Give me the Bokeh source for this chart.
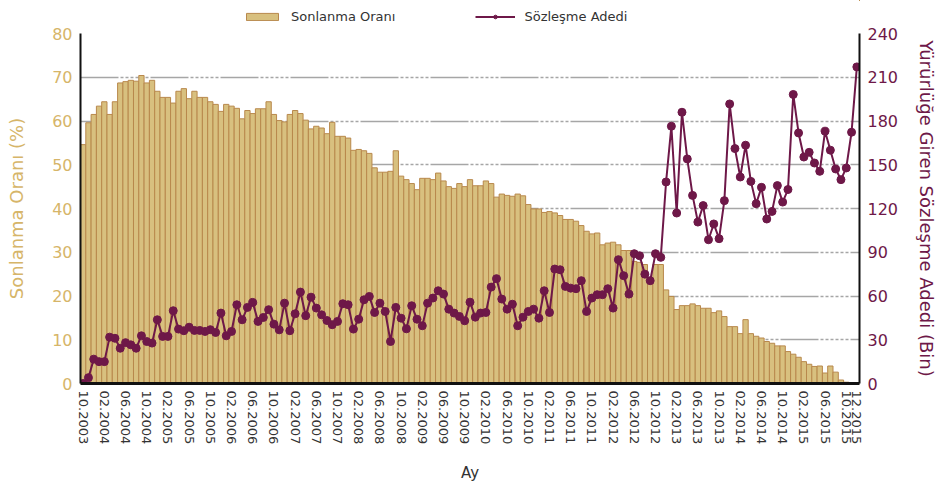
from bokeh.plotting import figure
from bokeh.layouts import column
from bokeh.models import Range1d, LinearAxis, FixedTicker, Legend, LegendItem, ColumnDataSource
from bokeh.embed import file_html
from bokeh.resources import INLINE

# Sonlanma Oranı (%) monthly, 10.2003 .. 12.2015
sonlanma = [
    54.6, 59.6, 61.5, 63.4, 64.4, 61.5, 64.4, 68.7, 69.0, 69.3,
    69.1, 70.4, 68.7, 69.3, 66.8, 65.4, 65.4, 64.1, 66.8, 67.4,
    65.1, 66.8, 65.4, 65.4, 64.4, 63.8, 62.2, 63.8, 63.4, 62.9,
    60.5, 62.4, 61.7, 62.8, 62.8, 64.4, 61.5, 60.1, 59.8, 61.5,
    62.4, 61.7, 60.2, 58.2, 58.8, 58.4, 57.1, 59.7, 56.5, 56.5,
    56.1, 53.3, 53.5, 53.2, 52.6, 49.3, 48.3, 48.3, 48.5, 53.2,
    47.4, 46.6, 45.7, 44.3, 46.9, 46.9, 46.6, 48.1, 46.3, 45.0,
    44.6, 45.7, 45.0, 46.6, 45.2, 45.2, 46.3, 45.7, 42.6, 43.3,
    43.0, 42.8, 43.3, 42.9, 40.9, 39.9, 39.9, 39.1, 39.3, 39.0,
    38.4, 37.5, 37.5, 37.1, 36.1, 34.8, 34.2, 34.4, 31.7, 32.1,
    32.3, 31.7, 30.4, 30.4, 27.9, 27.7, 27.2, 23.9, 27.2, 27.2,
    21.4, 19.9, 16.9, 17.8, 17.8, 18.2, 17.8, 17.2, 17.2, 16.2,
    16.6, 15.3, 13.0, 13.0, 11.4, 14.6, 11.4, 10.8, 10.4, 9.6,
    9.2, 8.6, 8.6, 7.3, 6.7, 6.0, 5.0, 4.4, 3.9, 4.0,
    2.4, 4.0, 2.6, 0.8, 0.3, 0.2, 0.1,
]

# Sözleşme Adedi (Bin) monthly
sozlesme = [
    0.0, 4.0, 16.7, 15.0, 15.0, 31.8, 31.0, 24.2, 28.0, 26.5,
    24.2, 32.7, 28.8, 27.7, 43.7, 32.3, 32.3, 49.9, 37.3, 36.2,
    38.6, 36.4, 36.4, 35.7, 36.9, 35.0, 48.3, 32.7, 35.7, 54.0,
    43.7, 52.2, 55.6, 42.6, 45.3, 50.6, 40.7, 36.8, 55.1, 36.2,
    47.8, 62.7, 46.5, 59.2, 51.7, 47.1, 43.2, 40.3, 42.6, 54.7,
    54.0, 37.3, 44.1, 57.4, 59.7, 48.7, 55.1, 49.4, 28.8, 52.2,
    44.8, 37.5, 53.3, 44.1, 39.6, 55.1, 58.6, 63.6, 61.3, 51.0,
    48.3, 46.0, 43.0, 55.8, 45.5, 48.3, 48.7, 66.1, 71.9, 57.9,
    51.0, 54.4, 39.6, 45.5, 49.4, 51.0, 44.8, 63.6, 48.7, 78.5,
    78.0, 66.6, 65.4, 65.0, 70.5, 49.4, 58.6, 60.9, 60.9, 65.0,
    51.7, 84.9, 73.9, 61.3, 89.0, 87.6, 75.0, 70.5, 89.0, 86.5,
    138.2, 176.4, 116.9, 186.0, 154.0, 129.0, 110.7, 122.0, 98.6, 109.4,
    99.3, 125.4, 191.7, 161.1, 141.6, 163.4, 138.6, 123.3, 134.5, 112.8,
    118.0, 135.7, 124.4, 133.0, 198.2, 171.8, 155.3, 158.5, 151.2, 145.5,
    173.0, 160.0, 147.1, 139.8, 147.8, 172.3, 217.1,
]

tick_positions = [0, 4, 8, 12, 16, 20, 24, 28, 32, 36, 40, 44, 48, 52, 56, 60, 64, 68, 72,
                  76, 80, 84, 88, 92, 96, 100, 104, 108, 112, 116, 120, 124, 128, 132, 136,
                  140, 144, 146]
tick_labels = ["10.2003", "02.2004", "06.2004", "10.2004", "02.2005", "06.2005", "10.2005",
               "02.2006", "06.2006", "10.2006", "02.2007", "06.2007", "10.2007", "02.2008",
               "06.2008", "10.2008", "02.2009", "06.2009", "10.2009", "02.2010", "06.2010",
               "10.2010", "02.2011", "06.2011", "10.2011", "02.2012", "06.2012", "10.2012",
               "02.2013", "06.2013", "10.2013", "02.2014", "06.2014", "10.2014", "02.2015",
               "06.2015", "10.2015", "12.2015"]

left_ticks = [0, 10, 20, 30, 40, 50, 60, 70, 80]
right_ticks = [0, 30, 60, 90, 120, 150, 180, 210, 240]

x = list(range(len(sonlanma)))
src = ColumnDataSource(dict(x=x, s=sonlanma, a=sozlesme))

TAN = "#d6b569"
BAR_FILL = "#d8c07f"
BAR_LINE = "#b8884c"
MAROON = "#6e1848"
FONT = "DejaVu Sans"
W = 940

p = figure(width=W, height=459, x_range=Range1d(-0.5, len(x) - 0.5), y_range=Range1d(0, 80),
           output_backend="svg", toolbar_location=None,
           min_border_left=80, min_border_right=78, min_border_top=7, min_border_bottom=101)
p.extra_y_ranges = {"right": Range1d(0, 240)}
p.outline_line_color = None
p.background_fill_color = "white"
p.border_fill_color = "white"

p.vbar(x="x", top="s", width=1.0, source=src, fill_color=BAR_FILL,
       line_color=BAR_LINE, line_width=1)
p.line(x="x", y="a", source=src, y_range_name="right", line_color=MAROON, line_width=2)
p.scatter(x="x", y="a", source=src, y_range_name="right", size=8,
          fill_color=MAROON, line_color=MAROON)

# grid
p.xgrid.grid_line_color = None
p.ygrid.ticker = FixedTicker(ticks=left_ticks[1:])
p.ygrid.grid_line_color = "#a6a6a6"
p.ygrid.grid_line_width = 1.5
p.ygrid.grid_line_dash = "38 2 3 2 3 2 3 2 3 2 3 2 3 2"

# left axis
ya = p.yaxis[0]
ya.ticker = FixedTicker(ticks=left_ticks)
ya.axis_label = "Sonlanma Oranı (%)"
ya.axis_label_text_font = FONT
ya.axis_label_text_font_size = "18px"
ya.axis_label_text_font_style = "normal"
ya.axis_label_text_color = TAN
ya.axis_label_standoff = 22
ya.major_label_text_font = FONT
ya.major_label_text_font_size = "16px"
ya.major_label_text_color = TAN
ya.major_label_standoff = 8
ya.major_tick_line_color = None
ya.major_tick_out = 0
ya.major_tick_in = 0
ya.minor_tick_line_color = None
ya.axis_line_color = "#111111"
ya.axis_line_width = 2

# right axis
ra = LinearAxis(y_range_name="right", ticker=FixedTicker(ticks=right_ticks))
ra.axis_label = "Yürürlüğe Giren Sözleşme Adedi (Bin)"
ra.axis_label_text_font = FONT
ra.axis_label_text_font_size = "18px"
ra.axis_label_text_font_style = "normal"
ra.axis_label_text_color = MAROON
ra.axis_label_standoff = 15
ra.major_label_text_font = FONT
ra.major_label_text_font_size = "16px"
ra.major_label_text_color = MAROON
ra.major_label_standoff = 8
ra.major_tick_line_color = None
ra.major_tick_out = 0
ra.major_tick_in = 0
ra.minor_tick_line_color = None
ra.axis_line_color = "#111111"
ra.axis_line_width = 2
p.add_layout(ra, "right")

# x axis
xa = p.xaxis[0]
xa.ticker = FixedTicker(ticks=tick_positions)
xa.major_label_overrides = {t: l for t, l in zip(tick_positions, tick_labels)}
xa.major_label_orientation = "vertical"
xa.major_label_text_font = FONT
xa.major_label_text_font_size = "13px"
xa.major_label_text_color = "#333333"
xa.major_label_standoff = 7
xa.major_tick_line_color = None
xa.major_tick_out = 0
xa.major_tick_in = 0
xa.minor_tick_line_color = None
xa.axis_line_color = "#111111"
xa.axis_line_width = 3
xa.axis_label = "Ay"
xa.axis_label_text_font = FONT
xa.axis_label_text_font_size = "15px"
xa.axis_label_text_font_style = "normal"
xa.axis_label_text_color = "#333333"
xa.axis_label_standoff = 17

# legend strip above the chart (same series, drawn out of view; only the legend shows)
lg = figure(width=W, height=26, output_backend="svg", toolbar_location=None,
            x_range=Range1d(-1000, -999), y_range=Range1d(-1000, -999),
            x_axis_type=None, y_axis_type=None,
            min_border_left=80, min_border_right=78, min_border_top=0, min_border_bottom=0)
lg.outline_line_color = None
lg.xgrid.grid_line_color = None
lg.ygrid.grid_line_color = None
lb = lg.vbar(x="x", top="s", width=1.0, source=src, fill_color=BAR_FILL,
             line_color=BAR_LINE, line_width=1)
ll = lg.line(x="x", y="a", source=src, line_color=MAROON, line_width=2)
lp = lg.scatter(x="x", y="a", source=src, size=11, fill_color=MAROON, line_color=MAROON)

legend = Legend(items=[LegendItem(label="Sonlanma Oranı", renderers=[lb]),
                       LegendItem(label="Sözleşme Adedi", renderers=[ll, lp])],
                orientation="horizontal", location=(162, 2),
                glyph_width=40, glyph_height=9, spacing=80, label_standoff=9,
                padding=0, margin=0, border_line_color=None, background_fill_alpha=0,
                label_text_font=FONT, label_text_font_size="13px", label_text_color="#333333")
lg.add_layout(legend, "center")

layout = column(lg, p, spacing=0)
open("out.html", "w").write(file_html(layout, INLINE))
